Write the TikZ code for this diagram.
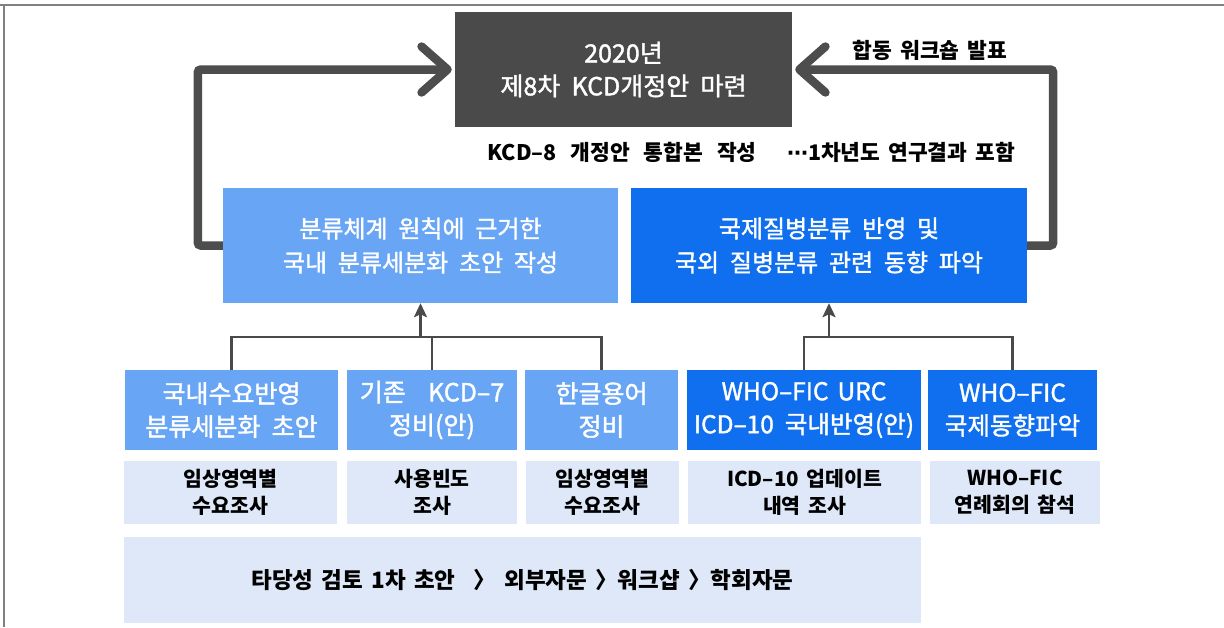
\documentclass[tikz,border=0pt]{standalone}
\usepackage{fontspec}
\setmainfont{Noto Sans CJK KR}[WordSpace=1.6]
\newfontfamily\medfont{Noto Sans CJK KR}[FakeBold=1.5, WordSpace=2.0]
\newfontfamily\dvfont{DejaVu Sans}
\usetikzlibrary{arrows.meta}
\definecolor{darkbox}{HTML}{4A4A4A}
\definecolor{loopc}{HTML}{4D4D4D}
\definecolor{lightblue}{HTML}{68A5F5}
\definecolor{strongblue}{HTML}{106FEF}
\definecolor{paleblue}{HTML}{DEE8F8}
\definecolor{framec}{HTML}{808080}
\tikzset{
  box/.style={inner sep=0pt, align=center, anchor=center},
  darkstyle/.style={box, fill=darkbox, text=white, font=\medfont\fontsize{25}{33}\selectfont},
  midL/.style={box, fill=lightblue, text=white, font=\medfont\fontsize{24}{34}\selectfont},
  midR/.style={box, fill=strongblue, text=white, font=\medfont\fontsize{24}{34}\selectfont},
  lowL/.style={box, fill=lightblue, text=white, font=\medfont\fontsize{25}{33}\selectfont},
  lowR/.style={box, fill=strongblue, text=white, font=\medfont\fontsize{24.5}{33}\selectfont},
  pale/.style={box, fill=paleblue, text=black, font=\bfseries\fontsize{20.5}{27}\selectfont},
  label/.style={inner sep=0pt, text=black, font=\bfseries\fontsize{21.5}{24}\selectfont},
  loopline/.style={draw=loopc, line width=8.5pt, rounded corners=3pt,
    -{Straight Barb[length=26pt, width=46pt, round]}},
  upline/.style={draw=darkbox, line width=2.6pt},
  uparrow/.style={upline, -{Stealth[length=14pt, width=13pt, inset=3pt]}}
}
\begin{document}
\begin{tikzpicture}[x=1pt, y=-1pt]
\useasboundingbox (0,0) rectangle (1224,627);
\fill[white] (0,0) rectangle (1224,627);
% frame
\draw[framec, line width=1.4pt] (0,5) -- (1224,5);
\draw[framec, line width=1.4pt] (4,5) -- (4,627);

% top box
\node[darkstyle, minimum width=337pt, minimum height=115pt] (dark) at (623.5,69.5) {2020년\\제8차 KCD개정안 마련};

% middle boxes
\node[midL, minimum width=395pt, minimum height=115pt] (ml) at (420.5,245.5) {분류체계 원칙에 근거한\\국내 분류세분화 초안 작성};
\node[midR, minimum width=396pt, minimum height=115pt] (mr) at (829,245.5) {국제질병분류 반영 및\\국외 질병분류 관련 동향 파악};

% labels
\node[label] (lbA) at (930,50) {합동 워크숍 발표};
\node[label] (lbB) at (622,152) {KCD–8\hspace{6pt} 개정안\hspace{6pt} 통합본\hspace{6pt} 작성};
\node[label] (lbC) at (901,152) {{\dvfont\bfseries\fontsize{21}{24}\selectfont ⋯}1차년도 연구결과 포함};

% lower boxes
\node[lowL, minimum width=213pt, minimum height=80pt] (b1) at (231.5,410) {국내수요반영\\분류세분화 초안};
\node[lowL, minimum width=170pt, minimum height=80pt] (b2) at (432,410) {기존~~KCD–7\\정비(안)};
\node[lowL, minimum width=153pt, minimum height=80pt] (b3) at (601.5,410) {한글용어\\정비};
\node[lowR, minimum width=234pt, minimum height=80pt] (b4) at (804,410) {WHO–FIC\hspace{-2pt} URC\\ICD–10 국내반영(안)};
\node[lowR, minimum width=169pt, minimum height=80pt] (b5) at (1012.5,410) {WHO–FIC\\국제동향파악};

% pale boxes
\node[pale, minimum width=213pt, minimum height=63pt] (p1) at (230.5,492.5) {임상영역별\\수요조사};
\node[pale, minimum width=170pt, minimum height=63pt] (p2) at (432,492.5) {사용빈도\\조사};
\node[pale, minimum width=153pt, minimum height=63pt] (p3) at (602.5,492.5) {임상영역별\\수요조사};
\node[pale, minimum width=233pt, minimum height=63pt] (p4) at (804.5,492.5) {ICD–10 업데이트\\내역 조사};
\node[pale, minimum width=170pt, minimum height=63pt] (p5) at (1015,492.5) {WHO–FIC\\연례회의 참석};

\node[pale, font=\bfseries\fontsize{22.5}{26}\selectfont, minimum width=797pt, minimum height=86pt] (bot) at (522.5,580) {타당성 검토 1차 초안\hspace{10pt} 〉 외부자문 〉워크샵 〉학회자문};

% loops
\draw[loopline, shorten >=3pt] (ml.west) -- ++(-25,0) |- (dark.west);
\draw[loopline, shorten >=3pt] (mr.east) -- ++(26,0) |- (dark.east);

% join connectors
\coordinate (barL) at (0,337);
\draw[upline] (b1.north) |- (b3.north |- barL) -- (b3.north);
\draw[upline] (b2.north) -- (b2.north |- barL);
\draw[uparrow] (ml.south |- barL) -- (ml.south);
\draw[upline] (b4.north) |- (b5.north |- barL) -- (b5.north);
\draw[uparrow] (mr.south |- barL) -- (mr.south);
\end{tikzpicture}
\end{document}
